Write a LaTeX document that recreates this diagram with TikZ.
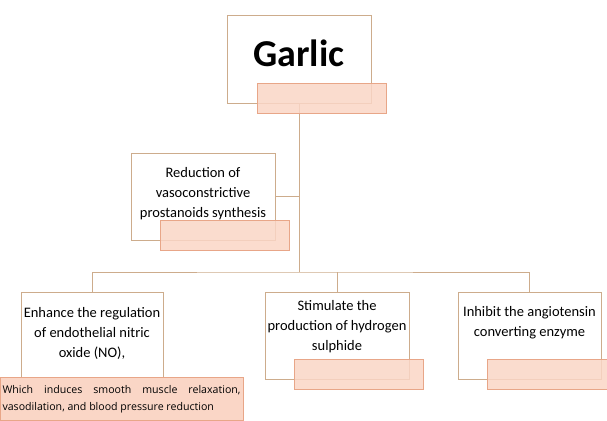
\documentclass[tikz,border=0pt]{standalone}
\usepackage{fontspec}
\setmainfont{Carlito}
\newfontfamily\notefont{Open Sans}
\usetikzlibrary{positioning,backgrounds}

\definecolor{tanline}{RGB}{205,172,140}
\definecolor{pinkfill}{RGB}{250,214,198}
\definecolor{pinkline}{RGB}{232,166,136}

\tikzset{
  box/.style={draw=tanline, fill=white, line width=0.9pt, inner sep=0pt},
  tag/.style={draw=pinkline, fill=pinkfill, fill opacity=0.85, line width=0.9pt, inner sep=0pt,
    minimum width=129pt, minimum height=30pt},
  txt/.style={align=center, inner sep=0pt, font=\fontsize{14.5}{20}\selectfont},
  link/.style={draw=tanline, line width=0.9pt}
}

\begin{document}
\begin{tikzpicture}[x=1pt, y=-1pt]
\useasboundingbox (0,0) rectangle (607,420);

% top
\node[box, minimum width=144pt, minimum height=88pt] (garlic) at (299,59) {};
\node[txt, font=\fontsize{38}{44}\bfseries] (garlictxt) at (299,53) {Garlic};
\node[tag] (garlictag) at (321.5,98) {};

% side branch
\node[box, minimum width=144pt, minimum height=87pt] (red) at (203,196.5) {};
\node[txt, below=15pt of red.north] (redtxt) {Reduction of\\vasoconstrictive\\prostanoids synthesis};
\node[tag] (redtag) at (224.5,235.5) {};

% bottom row
\node[box, minimum width=142pt, minimum height=85pt] (enh) at (92,334.5) {};
\node[txt, below=16pt of enh.north] (enhtxt) {Enhance the regulation\\of endothelial nitric\\oxide (NO),};
\node[draw=pinkline, fill=pinkfill, line width=0.9pt, inner sep=0pt, minimum width=243pt,
  minimum height=43pt] (enhtag) at (121.5,398.5) {};
\node[text width=238pt, align=justify, inner sep=0pt, font=\notefont\fontsize{10.6}{17}\selectfont]
  (enhtagtxt) at (121.5,399) {Which induces smooth muscle relaxation,\linebreak vasodilation, and blood pressure reduction};

\node[box, minimum width=144pt, minimum height=87pt] (stim) at (337,335.5) {};
\node[txt, below=9pt of stim.north] (stimtxt) {Stimulate the\\production of hydrogen\\sulphide};
\node[tag] (stimtag) at (358.5,374) {};

\node[box, minimum width=143pt, minimum height=87pt] (inh) at (529.5,335.5) {};
\node[txt, below=15pt of inh.north] (inhtxt) {Inhibit the angiotensin\\converting enzyme};
\node[tag, minimum width=130pt] (inhtag) at (552,374) {};

% connectors
\coordinate (bus) at (300,272);
\begin{scope}[on background layer]
\draw[link] (garlic.center) -- (garlic |- bus);
\draw[link] (red.east) -- (red.east -| garlic);
\draw[link] (enh.north) |- (garlic |- bus) -| (inh.north);
\draw[link] (stim.north) -- (stim |- bus);
\end{scope}
\end{tikzpicture}
\end{document}
